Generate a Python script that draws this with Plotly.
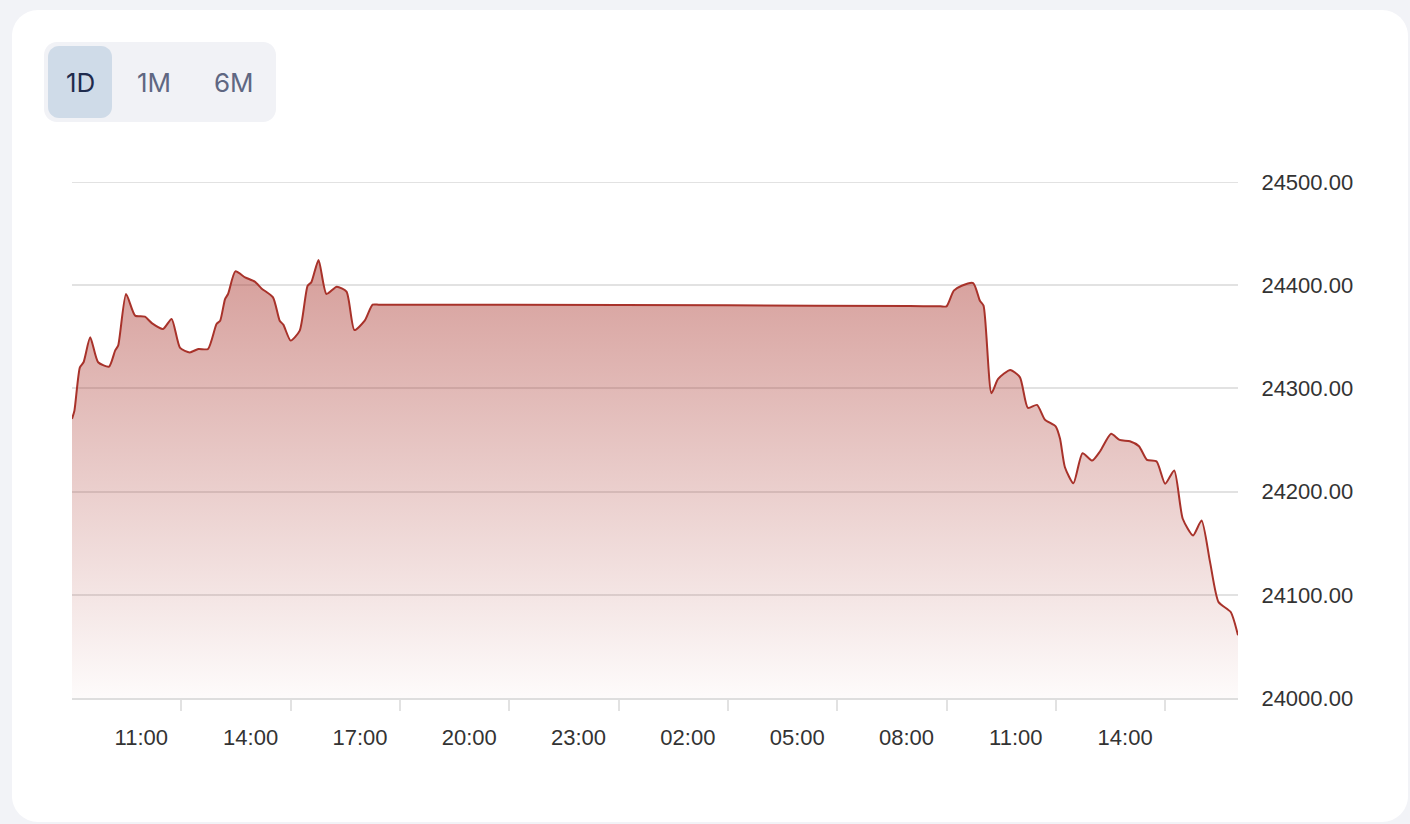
import plotly.graph_objects as go

# ---------------- data ----------------
times = [
    "2024-03-14 08:00", "2024-03-14 08:04", "2024-03-14 08:13", "2024-03-14 08:19",
    "2024-03-14 08:30", "2024-03-14 08:43", "2024-03-14 09:01", "2024-03-14 09:11",
    "2024-03-14 09:16", "2024-03-14 09:29", "2024-03-14 09:44", "2024-03-14 10:00",
    "2024-03-14 10:12", "2024-03-14 10:30", "2024-03-14 10:44", "2024-03-14 10:58",
    "2024-03-14 11:14", "2024-03-14 11:28", "2024-03-14 11:44", "2024-03-14 11:58",
    "2024-03-14 12:04", "2024-03-14 12:12", "2024-03-14 12:17", "2024-03-14 12:29",
    "2024-03-14 12:45", "2024-03-14 13:01", "2024-03-14 13:12", "2024-03-14 13:31",
    "2024-03-14 13:42", "2024-03-14 13:48", "2024-03-14 14:00", "2024-03-14 14:15",
    "2024-03-14 14:28", "2024-03-14 14:34", "2024-03-14 14:46", "2024-03-14 14:59",
    "2024-03-14 15:16", "2024-03-14 15:32", "2024-03-14 15:45", "2024-03-14 16:02",
    "2024-03-14 16:15", "2024-03-14 16:25", "2024-03-14 17:00", "2024-03-14 20:00",
    "2024-03-15 02:00", "2024-03-15 07:00", "2024-03-15 07:50", "2024-03-15 08:00",
    "2024-03-15 08:12", "2024-03-15 08:25", "2024-03-15 08:44",
    "2024-03-15 08:55", "2024-03-15 09:01", "2024-03-15 09:14", "2024-03-15 09:25",
    "2024-03-15 09:45", "2024-03-15 10:01", "2024-03-15 10:14", "2024-03-15 10:29",
    "2024-03-15 10:42", "2024-03-15 11:00", "2024-03-15 11:07", "2024-03-15 11:15",
    "2024-03-15 11:29", "2024-03-15 11:44", "2024-03-15 12:00", "2024-03-15 12:13",
    "2024-03-15 12:31", "2024-03-15 12:45", "2024-03-15 13:02", "2024-03-15 13:17",
    "2024-03-15 13:30", "2024-03-15 13:46", "2024-03-15 14:00", "2024-03-15 14:15",
    "2024-03-15 14:29", "2024-03-15 14:46", "2024-03-15 15:00", "2024-03-15 15:14",
    "2024-03-15 15:28", "2024-03-15 15:48", "2024-03-15 16:00",
]
values = [
    24270.5, 24278.5, 24320.4, 24325.3,
    24349.5, 24325.3, 24321.1, 24336.6,
    24341.4, 24391.5, 24370.5, 24369.5,
    24363.0, 24357.6, 24367.3, 24339.2,
    24334.9, 24338.2, 24338.2, 24362.4,
    24365.6, 24386.6, 24391.5, 24413.4,
    24407.6, 24403.4, 24396.9, 24388.2,
    24365.6, 24361.8, 24346.3, 24356.0,
    24399.5, 24402.7, 24424.4, 24391.5,
    24398.5, 24393.7, 24356.6, 24365.6,
    24381.1, 24381.1, 24381.1, 24381.0,
    24380.5, 24379.8, 24379.6, 24379.5,
    24394.7, 24399.5, 24402.1,
    24385.0, 24380.2, 24295.3, 24309.2,
    24317.9, 24310.7, 24281.1, 24284.0,
    24269.8, 24263.0, 24251.1, 24223.6,
    24208.1, 24237.2, 24230.1, 24239.1,
    24256.0, 24250.1, 24248.8, 24244.0,
    24230.8, 24229.1, 24207.6, 24220.4,
    24173.7, 24157.5, 24172.0, 24131.7,
    24092.9, 24083.3, 24060.7,
]
x_range = ["2024-03-14 08:00", "2024-03-15 16:00"]
tick_times = [
    "2024-03-14 11:00", "2024-03-14 14:00", "2024-03-14 17:00", "2024-03-14 20:00",
    "2024-03-14 23:00", "2024-03-15 02:00", "2024-03-15 05:00", "2024-03-15 08:00",
    "2024-03-15 11:00", "2024-03-15 14:00",
]
tick_labels = ["11:00", "14:00", "17:00", "20:00", "23:00", "02:00", "05:00", "08:00", "11:00", "14:00"]
y_ticks = [24000, 24100, 24200, 24300, 24400, 24500]
range_buttons = ["1D", "1M", "6M"]
active_button = "1D"

# ---------------- layout geometry ----------------
W, H = 1410, 824
L, R, T, B = 72, 1238, 182, 698


def px(x):
    return (x - L) / (R - L)


def py(y):
    return (B - y) / (B - T)


def rr_path(x0, y0, x1, y1, r):
    k = 0.5523 * r
    pts = [
        ("M", [(x0 + r, y0)]),
        ("L", [(x1 - r, y0)]),
        ("C", [(x1 - r + k, y0), (x1, y0 + r - k), (x1, y0 + r)]),
        ("L", [(x1, y1 - r)]),
        ("C", [(x1, y1 - r + k), (x1 - r + k, y1), (x1 - r, y1)]),
        ("L", [(x0 + r, y1)]),
        ("C", [(x0 + r - k, y1), (x0, y1 - r + k), (x0, y1 - r)]),
        ("L", [(x0, y0 + r)]),
        ("C", [(x0, y0 + r - k), (x0 + r - k, y0), (x0 + r, y0)]),
    ]
    s = ""
    for cmd, ps in pts:
        s += cmd + " ".join(f"{px(a):.5f},{py(b):.5f}" for a, b in ps) + " "
    return s + "Z"


LINE = "#a8322a"
GRID = "#e2e2e2"

fig = go.Figure()
fig.add_trace(go.Scatter(
    x=times, y=values, mode="lines",
    line=dict(color=LINE, width=2, shape="spline", smoothing=0.6),
    fill="tozeroy",
    fillgradient=dict(
        type="vertical",
        start=24000, stop=24420,
        colorscale=[[0, "rgba(168,50,42,0.02)"], [1, "rgba(168,50,42,0.47)"]],
    ),
    hoverinfo="skip",
    showlegend=False,
))

shapes = [
    dict(type="path", xref="paper", yref="paper", layer="below",
         path=rr_path(12, 10, 1408, 822, 26), fillcolor="#ffffff", line=dict(width=0)),
    dict(type="path", xref="paper", yref="paper", layer="below",
         path=rr_path(44, 42, 276, 122, 13), fillcolor="#f1f2f6", line=dict(width=0)),
    dict(type="path", xref="paper", yref="paper", layer="below",
         path=rr_path(48, 46, 112, 118, 11), fillcolor="#cfdbe8", line=dict(width=0)),
    # top gridline (plotly drops the gridline lying on the plot edge)
    dict(type="line", xref="paper", yref="y", layer="below",
         x0=0, x1=1, y0=y_ticks[-1], y1=y_ticks[-1], line=dict(color=GRID, width=2)),
]

btn_centers = [80, 154, 234]
annotations = []
for lbl, cx in zip(range_buttons, btn_centers):
    annotations.append(dict(
        x=px(cx), y=py(82), xref="paper", yref="paper", text=lbl, showarrow=False,
        xanchor="center", yanchor="middle",
        font=dict(family="Inter", size=26, color="#1f2b4d" if lbl == active_button else "#5f6782"),
    ))

fig.update_layout(
    width=W, height=H,
    margin=dict(l=L, r=W - R, t=T, b=H - B, pad=0),
    paper_bgcolor="#f2f3f7",
    plot_bgcolor="rgba(0,0,0,0)",
    shapes=shapes,
    annotations=annotations,
    font=dict(family="Liberation Sans, Arial, sans-serif", size=22, color="#333333"),
    xaxis=dict(
        type="date", range=x_range,
        tickvals=tick_times, ticktext=tick_labels,
        showgrid=False, zeroline=False,
        showline=True, linecolor="#dedede", linewidth=2,
        ticks="outside", ticklen=11, tickwidth=2, tickcolor=GRID,
        tickfont=dict(size=22, color="#333333"),
        ticklabelstandoff=8,
        ticklabelshift=-40,
    ),
    yaxis=dict(
        side="right", range=[24000, 24500],
        tickvals=y_ticks, tickformat=".2f",
        showgrid=True, gridcolor=GRID, gridwidth=2,
        zeroline=False, showline=False,
        ticks="outside", ticklen=18, tickcolor="rgba(0,0,0,0)",
        tickfont=dict(size=22, color="#333333"),
    ),
)

fig.write_html(
    "out.html",
    config={"displayModeBar": False},
    post_script="document.body.style.margin='0';document.body.style.background='#f2f3f7';",
)
